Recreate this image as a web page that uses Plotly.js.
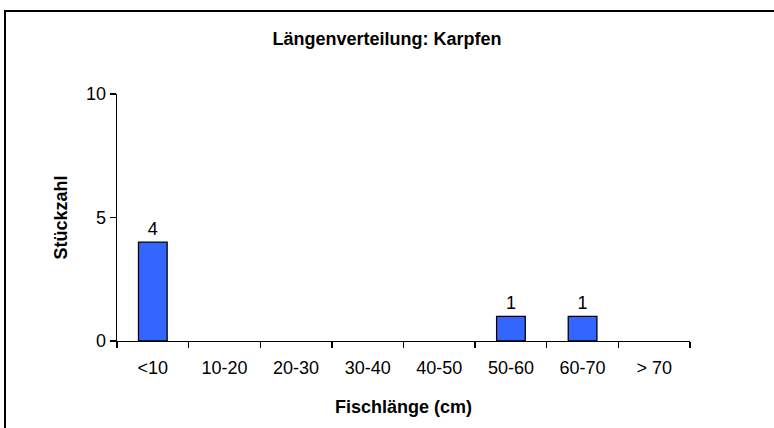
<!DOCTYPE html>
<html>
<head>
<meta charset="utf-8">
<script src="https://cdn.plot.ly/plotly-3.0.1.min.js"></script>
<style>
  html, body { margin: 0; padding: 0; background: #ffffff; }
  #chart { width: 774px; height: 428px; }
</style>
</head>
<body>
<div id="chart"></div>
<script>
// Length classes of the caught carp and the number of fish in each
const lengthClasses = ['<10', '10-20', '20-30', '30-40', '40-50', '50-60', '60-70', '> 70'];
const fishCounts = [4, 0, 0, 0, 0, 1, 1, 0];
const yTickValues = [0, 5, 10];

const FONT = 'Arial, "Liberation Sans", sans-serif';

const trace = {
  type: 'bar',
  x: lengthClasses,
  y: fishCounts,
  // empty classes get neither a label nor an outline
  text: fishCounts.map(v => (v > 0 ? String(v) : '')),
  textposition: 'outside',
  cliponaxis: false,
  textfont: { family: FONT, size: 18, color: '#000000' },
  marker: {
    color: '#3366FF',
    line: { color: '#000000', width: fishCounts.map(v => (v > 0 ? 1.3 : 0)) }
  },
  hoverinfo: 'x+y'
};

const layout = {
  width: 774,
  height: 428,
  margin: { l: 117, r: 84, t: 94, b: 87 },
  paper_bgcolor: '#ffffff',
  plot_bgcolor: '#ffffff',
  showlegend: false,
  bargap: 0.6,
  font: { family: FONT, color: '#000000' },
  title: {
    text: '<b>Längenverteilung: Karpfen</b>',
    font: { family: FONT, size: 18, color: '#000000' },
    x: 0.5, xanchor: 'center',
    y: 0.91, yanchor: 'middle'
  },
  xaxis: {
    type: 'category',
    showline: true, linecolor: '#000000', linewidth: 1.3,
    ticks: 'outside', tickson: 'boundaries', ticklen: 6, tickwidth: 1.3, tickcolor: '#000000',
    tickfont: { family: FONT, size: 18, color: '#000000' },
    ticklabelstandoff: 10,
    showgrid: false, zeroline: false,
    fixedrange: true,
    title: {
      text: '<b>Fischlänge (cm)</b>',
      font: { family: FONT, size: 18, color: '#000000' },
      standoff: 23
    }
  },
  yaxis: {
    range: [0, 10],
    tickvals: yTickValues,
    ticktext: yTickValues.map(String),
    showline: true, linecolor: '#000000', linewidth: 1.3,
    ticks: 'outside', ticklen: 6, tickwidth: 1.3, tickcolor: '#000000',
    tickfont: { family: FONT, size: 18, color: '#000000' },
    showgrid: false, zeroline: false,
    fixedrange: true,
    title: {
      text: '<b>Stückzahl</b>',
      font: { family: FONT, size: 18, color: '#000000' },
      standoff: 13
    }
  },
  shapes: [
    // outer chart frame, running past the right and bottom edges of the page
    {
      type: 'rect', xref: 'paper', yref: 'paper',
      x0: (5 - 117) / 573, x1: (790 - 117) / 573,
      y0: (341 - 450) / 247, y1: (341 - 11) / 247,
      line: { color: '#000000', width: 2 },
      fillcolor: 'rgba(0,0,0,0)',
      layer: 'below'
    }
  ]
};

Plotly.newPlot('chart', [trace], layout, { displayModeBar: false, staticPlot: true });
</script>
</body>
</html>
